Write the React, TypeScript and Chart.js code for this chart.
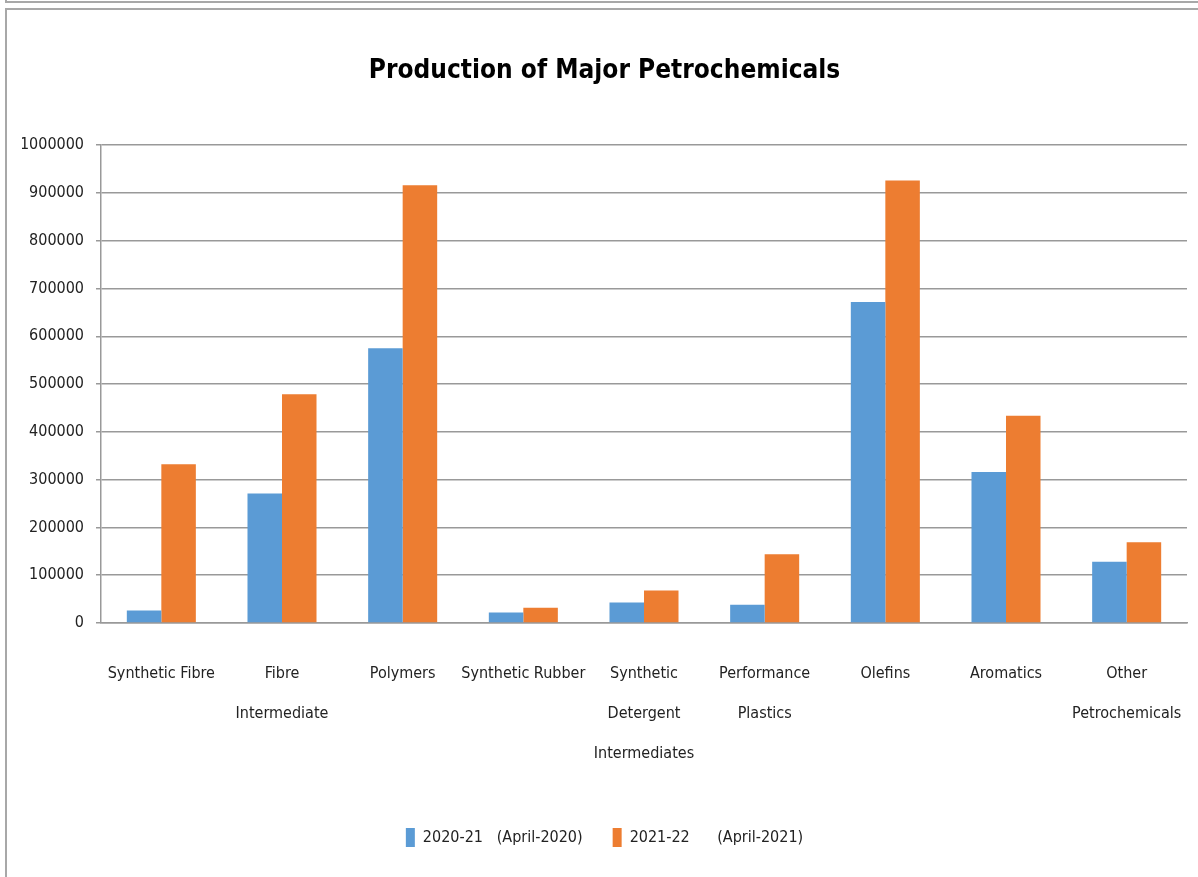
import React, { useEffect, useRef } from "react";
import { Chart, registerables } from "chart.js";

Chart.register(...registerables);

const categories: (string | string[])[] = [
  "Synthetic Fibre",
  ["Fibre", "Intermediate"],
  "Polymers",
  "Synthetic Rubber",
  ["Synthetic", "Detergent", "Intermediates"],
  ["Performance", "Plastics"],
  "Olefins",
  "Aromatics",
  ["Other", "Petrochemicals"],
];

const series2020 = [26000, 271000, 575000, 22000, 43000, 38000, 672000, 316000, 128000];
const series2021 = [332000, 479000, 916000, 32000, 68000, 144000, 926000, 434000, 169000];

const seriesLabels = ["2020-21   (April-2020)", "2021-22      (April-2021)"];
const chartTitle = "Production of Major Petrochemicals";

const FONT = '"Liberation Sans Narrow", "DejaVu Sans Condensed", "Roboto Condensed", "Arial Narrow", sans-serif';

export default function App() {
  const ref = useRef<HTMLCanvasElement | null>(null);

  useEffect(() => {
    if (!ref.current) return;
    const chart = new Chart(ref.current, {
      type: "bar",
      data: {
        labels: categories,
        datasets: [
          {
            label: seriesLabels[0],
            data: series2020,
            backgroundColor: "#5b9bd5",
            categoryPercentage: 0.572,
            barPercentage: 1,
          },
          {
            label: seriesLabels[1],
            data: series2021,
            backgroundColor: "#ed7d31",
            categoryPercentage: 0.572,
            barPercentage: 1,
          },
        ],
      },
      options: {
        animation: false,
        responsive: false,
        maintainAspectRatio: false,
        layout: { padding: { left: 22, right: 11, top: 0, bottom: 20 } },
        plugins: {
          title: {
            display: true,
            text: chartTitle,
            color: "#000",
            font: { family: FONT, size: 26, weight: "bold", lineHeight: 1.2 },
            padding: { top: 56, bottom: 58 },
          },
          legend: {
            position: "bottom",
            labels: {
              color: "#222",
              font: { family: FONT, size: 16 },
              boxWidth: 9,
              boxHeight: 19,
              padding: 30,
            },
          },
          tooltip: { enabled: false },
        },
        scales: {
          x: {
            grid: { display: false, drawTicks: false },
            border: { display: true, color: "#999", width: 1.5 },
            ticks: {
              color: "#222",
              font: { family: FONT, size: 16, lineHeight: 2.5 },
              padding: 31,
              maxRotation: 0,
              minRotation: 0,
              autoSkip: false,
            },
            afterFit: (scale: any) => {
              scale.height = 175;
              scale.paddingLeft = 0;
              scale.paddingRight = 0;
            },
          },
          y: {
            min: 0,
            max: 1000000,
            grid: { color: "#999", lineWidth: 1.5, tickLength: 5, drawTicks: true },
            border: { display: true, color: "#999", width: 1.5 },
            ticks: {
              stepSize: 100000,
              color: "#222",
              font: { family: FONT, size: 16 },
              padding: 12,
              callback: (v: any) => String(v),
            },
            afterFit: (scale: any) => {
              scale.width = 79;
            },
          },
        },
      },
    });
    return () => chart.destroy();
  }, []);

  return (
    <div style={{ position: "fixed", left: 0, top: 0, width: 1198, height: 877, background: "#fff" }}>
      <canvas ref={ref} width={1198} height={877} style={{ position: "absolute", left: 0, top: 0 }} />
      <div style={{ position: "absolute", left: 5, top: 1, width: 1193, height: 2, background: "#a8a8a8" }} />
      <div style={{ position: "absolute", left: 5, top: 0, width: 2, height: 3, background: "#a8a8a8" }} />
      <div style={{ position: "absolute", left: 5, top: 8, width: 1193, height: 2, background: "#a8a8a8" }} />
      <div style={{ position: "absolute", left: 5, top: 8, width: 2, height: 869, background: "#a8a8a8" }} />
    </div>
  );
}
